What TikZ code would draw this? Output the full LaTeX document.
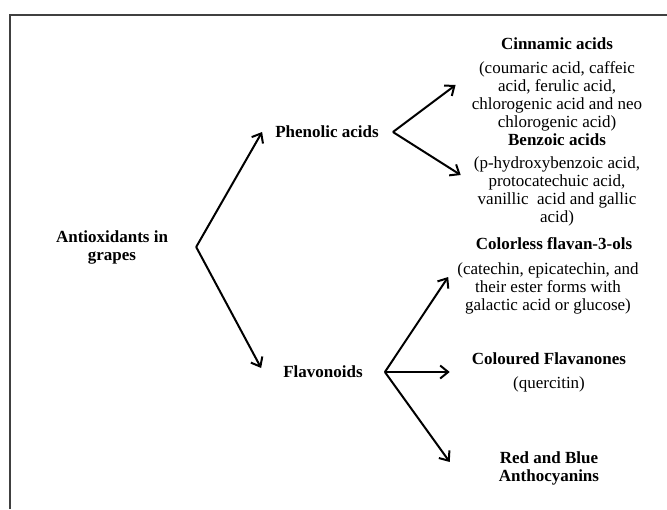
\documentclass[tikz,border=0pt]{standalone}
\usepackage{fontspec}
\setmainfont{Liberation Serif}
\usetikzlibrary{arrows.meta, positioning}

\begin{document}
\begin{tikzpicture}[x=1pt, y=-1pt,
    hd/.style={font=\fontsize{17}{18}\selectfont\bfseries, align=center, inner sep=0pt},
    desc/.style={font=\fontsize{17}{18}\selectfont, align=center, inner sep=0pt},
    br/.style={draw, line width=2pt, line join=miter,
               -{Straight Barb[length=8pt, width=13pt, line width=2pt]}}
    ]
    \useasboundingbox (0,0) rectangle (667,509);

    %% ---- frame ----
    \draw[line width=1.3pt, black!75] (10,509) -- (10,15) -- (667,15);

    %% ---- root and first level ----
    \node[hd] (root) at (112,247) {Antioxidants in\\grapes};
    \node[hd] (phen) at (327,132) {Phenolic acids};
    \node[hd] (flav) at (323,372) {Flavonoids};

    %% ---- phenolic acids ----
    \node[hd]   (cinn)  at (557,44)  {Cinnamic acids};
    \node[desc] (cinnd) at (557,96)  {(coumaric acid, caffeic\\acid, ferulic acid,\\chlorogenic acid and neo\\chlorogenic acid)};
    \node[hd]   (benz)  at (557,140) {Benzoic acids};
    \node[desc] (benzd) at (557,191) {(p-hydroxybenzoic acid,\\protocatechuic acid,\\vanillic\ \ acid and gallic\\acid)};

    %% ---- flavonoids ----
    \node[hd]   (cfl)   at (554,244) {Colorless flavan-3-ols};
    \node[desc] (cfld)  at (548,288) {(catechin, epicatechin, and\\their ester forms with\\galactic acid or glucose)};
    \node[hd]   (cfn)   at (549,359) {Coloured Flavanones};
    \node[desc] (cfnd)  at (549,384) {(quercitin)};
    \node[hd]   (anth)  at (549,468) {Red and Blue\\Anthocyanins};

    %% ---- fork points ----
    \coordinate (rfork) at ([xshift=28pt]root.east);
    \coordinate (pfork) at ([xshift=14pt]phen.east);
    \coordinate (ffork) at ([xshift=22pt]flav.east);

    %% ---- branches ----
    \draw[br] (rfork) -- ([xshift=-13pt]phen.west);
    \draw[br] (rfork) -- ([xshift=-22pt,yshift=4pt]flav.west);
    \draw[br] (pfork) -- ([xshift=-16pt,yshift=11pt]cinnd.west);
    \draw[br] (pfork) -- ([xshift=-13pt,yshift=16pt]benzd.west);
    \draw[br] (ffork) -- ([xshift=-9pt,yshift=11pt]cfld.west);
    \draw[br] (ffork) -- ([xshift=-22pt,yshift=-13pt]cfn.west);
    \draw[br] (ffork) -- ([xshift=-49pt,yshift=6pt]anth.west);
\end{tikzpicture}
\end{document}
